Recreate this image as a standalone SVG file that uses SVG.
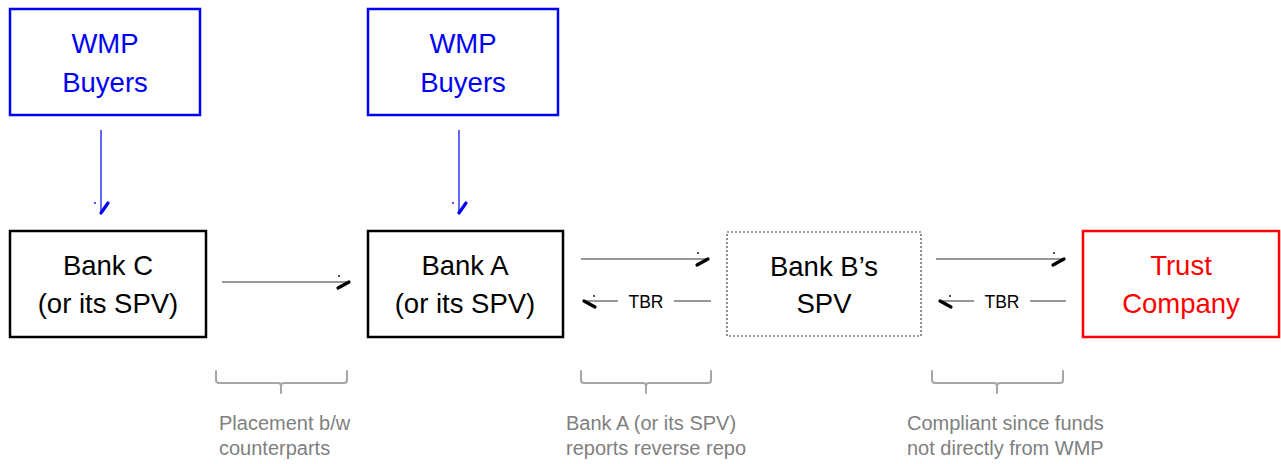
<svg xmlns="http://www.w3.org/2000/svg" width="1281" height="464" viewBox="0 0 1281 464">
<style>
  .box { fill: #ffffff; stroke-width: 2.5; }
  .blk { stroke: #000000; }
  .blue { stroke: #0000f5; }
  .red { stroke: #ff0000; }
  .dotted { fill: #ffffff; stroke: #444444; stroke-width: 1.2; stroke-dasharray: 2 2; }
  .lbl { font-family: "Liberation Sans", Arial, sans-serif; font-size: 27.5px; text-anchor: middle; }
  .tb { fill: #000000; }
  .tblue { fill: #0000f5; }
  .tred { fill: #ff0000; }
  .conn { fill: none; stroke: #333333; stroke-width: 1.2; }
  .connb { fill: none; stroke: #0000f5; stroke-width: 1.2; }
  .tbr { font-family: "Liberation Sans", Arial, sans-serif; font-size: 17.5px; text-anchor: middle; fill: #000000; }
  .brace { fill: none; stroke: #a6a6a6; stroke-width: 2; stroke-linejoin: round; stroke-linecap: round; }
  .note { font-family: "Liberation Sans", Arial, sans-serif; font-size: 20px; fill: #808080; }
</style>
<defs>
  <marker id="hR" viewBox="-15 -10 18 20" refX="0" refY="0" markerWidth="18" markerHeight="20" markerUnits="userSpaceOnUse" orient="auto" overflow="visible">
    <path d="M0,0 L-11,6" stroke="#000" stroke-width="3.2" stroke-linecap="round" fill="none"/>
    <circle cx="-10" cy="-6" r="0.9" fill="#000"/>
  </marker>
  <marker id="hL" viewBox="-15 -10 18 20" refX="0" refY="0" markerWidth="18" markerHeight="20" markerUnits="userSpaceOnUse" orient="auto" overflow="visible">
    <path d="M0,0 L-11,-6" stroke="#000" stroke-width="3.2" stroke-linecap="round" fill="none"/>
    <circle cx="-10" cy="5" r="0.9" fill="#000"/>
  </marker>
  <marker id="hB" viewBox="-15 -10 18 20" refX="0" refY="0" markerWidth="18" markerHeight="20" markerUnits="userSpaceOnUse" orient="auto" overflow="visible">
    <path d="M0,0 L-10,-7" stroke="#0000f5" stroke-width="3.2" stroke-linecap="round" fill="none"/>
    <circle cx="-10" cy="6" r="0.9" fill="#0000f5"/>
  </marker>
</defs>
<rect width="1281" height="464" fill="#ffffff"/>

<g id="connectors">
  <line class="connb" x1="101" y1="130" x2="101" y2="213" marker-end="url(#hB)"/>
  <line class="connb" x1="459" y1="130" x2="459" y2="213" marker-end="url(#hB)"/>
  <line class="conn" x1="222" y1="282" x2="349" y2="282" marker-end="url(#hR)"/>
  <line class="conn" x1="581" y1="259" x2="708" y2="259" marker-end="url(#hR)"/>
  <line class="conn" x1="618" y1="301" x2="584" y2="301" marker-end="url(#hL)"/>
  <line class="conn" x1="674" y1="301" x2="711" y2="301"/>
  <text class="tbr" x="646" y="308">TBR</text>
  <line class="conn" x1="936" y1="259" x2="1064" y2="259" marker-end="url(#hR)"/>
  <line class="conn" x1="974" y1="301" x2="940" y2="301" marker-end="url(#hL)"/>
  <line class="conn" x1="1030" y1="301" x2="1066" y2="301"/>
  <text class="tbr" x="1002" y="308">TBR</text>
</g>

<g id="wmp1">
  <rect class="box blue" x="10" y="9" width="190" height="106"/>
  <text class="lbl tblue" x="105" y="53">WMP</text>
  <text class="lbl tblue" x="105" y="92">Buyers</text>
</g>
<g id="wmp2">
  <rect class="box blue" x="368" y="9" width="190" height="106"/>
  <text class="lbl tblue" x="463" y="53">WMP</text>
  <text class="lbl tblue" x="463" y="92">Buyers</text>
</g>
<g id="bankC">
  <rect class="box blk" x="10" y="231" width="196" height="106"/>
  <text class="lbl tb" x="108" y="275">Bank C</text>
  <text class="lbl tb" x="108" y="313">(or its SPV)</text>
</g>
<g id="bankA">
  <rect class="box blk" x="368" y="231" width="195" height="106"/>
  <text class="lbl tb" x="465" y="275">Bank A</text>
  <text class="lbl tb" x="465" y="313">(or its SPV)</text>
</g>
<g id="bankB">
  <rect class="dotted" x="727" y="232" width="194" height="104"/>
  <text class="lbl tb" x="824" y="276">Bank B’s</text>
  <text class="lbl tb" x="824" y="313">SPV</text>
</g>
<g id="trust">
  <rect class="box red" x="1083" y="231" width="196" height="106"/>
  <text class="lbl tred" x="1181" y="275">Trust</text>
  <text class="lbl tred" x="1181" y="313">Company</text>
</g>

<g id="notes">
  <path class="brace" d="M216,371 L216,380 Q216,383 219,383 L278,383 Q281,383 281,386 L281,393 M281,386 Q281,383 284,383 L344,383 Q347,383 347,380 L347,371"/>
  <text class="note" x="219" y="430">Placement b/w</text>
  <text class="note" x="219" y="455">counterparts</text>

  <path class="brace" d="M581,371 L581,380 Q581,383 584,383 L643,383 Q646,383 646,386 L646,393 M646,386 Q646,383 649,383 L708,383 Q711,383 711,380 L711,371"/>
  <text class="note" x="566" y="430">Bank A (or its SPV)</text>
  <text class="note" x="566" y="455">reports reverse repo</text>

  <path class="brace" d="M932,371 L932,380 Q932,383 935,383 L994,383 Q997,383 997,386 L997,393 M997,386 Q997,383 1000,383 L1060,383 Q1063,383 1063,380 L1063,371"/>
  <text class="note" x="907" y="430">Compliant since funds</text>
  <text class="note" x="907" y="455">not directly from WMP</text>
</g>
</svg>
